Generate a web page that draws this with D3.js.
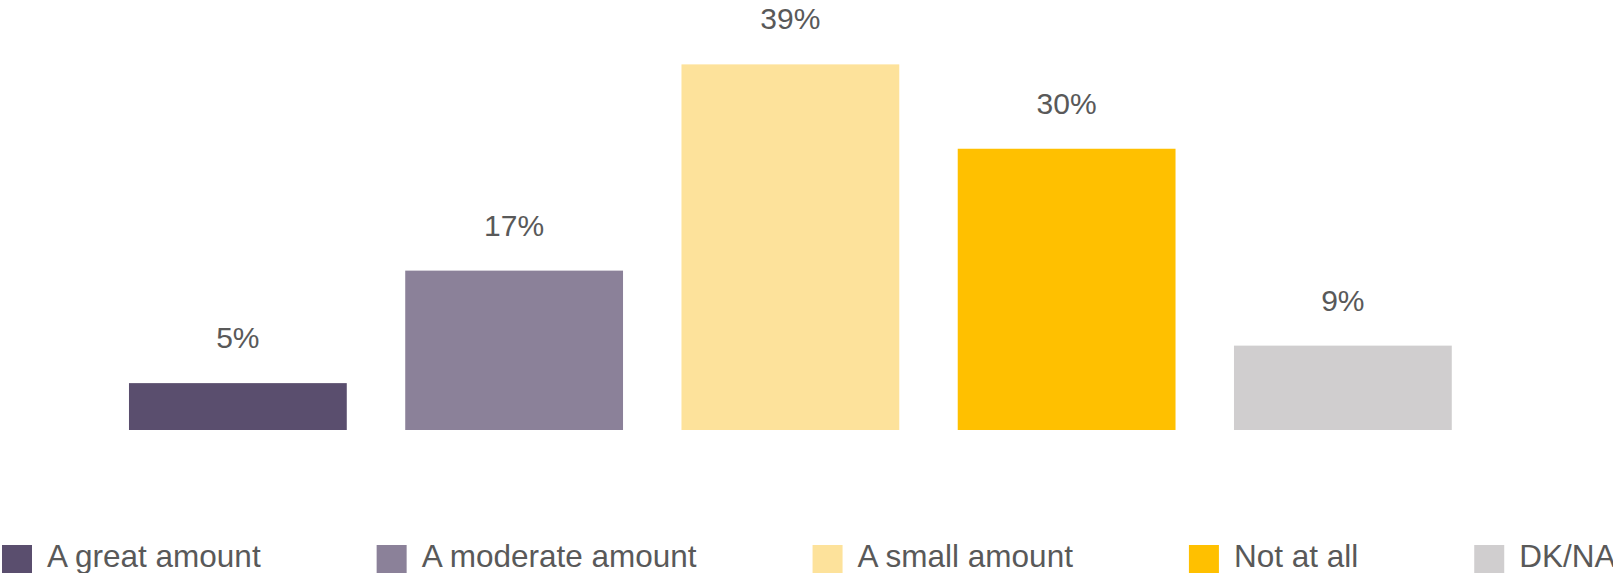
<!DOCTYPE html>
<html>
<head>
<meta charset="utf-8">
<script src="https://cdn.jsdelivr.net/npm/d3@7"></script>
<style>
	html, body { margin: 0; padding: 0; background: #fff; overflow: hidden; }
	svg { display: block; font-family: "Liberation Sans", Arial, sans-serif; }
</style>
</head>
<body>
<div id="chart"></div>
<script>
(function() {
	var w = 1613, h = 573

	// chart data
	var categories = ["A great amount", "A moderate amount", "A small amount", "Not at all", "DK/NA"]
	var values = [5, 17, 39, 30, 9]
	var colors = ["#5a4e6e", "#8b8199", "#fde29b", "#ffc000", "#d0cecf"]

	var margins = {left: 99.75, right: 1481, top: 55, bottom: 430},
		textColor = "#595959"

	var svg = d3.select("#chart").append("svg")
		.attr("width", w)
		.attr("height", h)

	var data = categories.map((c, i) => ({name: c, value: values[i], color: colors[i]}))

	// x Scale
	var x = d3.scaleBand()
		.domain(categories)
		.range([margins.left, margins.right])
		.paddingInner(0.2116)
		.paddingOuter(0.1058)

	// y Scale
	var y = d3.scaleLinear()
		.domain([0, 40])
		.range([margins.bottom, margins.top])

	// Bars
	svg.selectAll("rect.bar")
		.data(data)
		.enter()
		.append("rect")
		.attr("class", "bar")
		.attr("x", d => x(d.name))
		.attr("y", d => y(d.value))
		.attr("width", x.bandwidth())
		.attr("height", d => y(0) - y(d.value))
		.attr("fill", d => d.color)

	// Value labels
	svg.selectAll("text.value")
		.data(data)
		.enter()
		.append("text")
		.attr("class", "value")
		.attr("x", d => x(d.name) + x.bandwidth() / 2)
		.attr("y", d => y(d.value) - 35)
		.attr("text-anchor", "middle")
		.attr("fill", textColor)
		.style("font-size", "30px")
		.text(d => d.value + "%")

	// Legend, laid out left to right
	var legend = svg.append("g")
		.attr("transform", "translate(2, 545)")

	var cursor = 0
	data.forEach(d => {
		var item = legend.append("g")
			.attr("transform", "translate(" + cursor + ", 0)")
		item.append("rect")
			.attr("width", 30)
			.attr("height", 30)
			.attr("fill", d.color)
		var t = item.append("text")
			.attr("x", 45)
			.attr("y", 21.5)
			.attr("fill", textColor)
			.style("font-size", "31.5px")
			.text(d.name)
		cursor += 45 + t.node().getComputedTextLength() + 116
	})
})()
</script>
</body>
</html>
